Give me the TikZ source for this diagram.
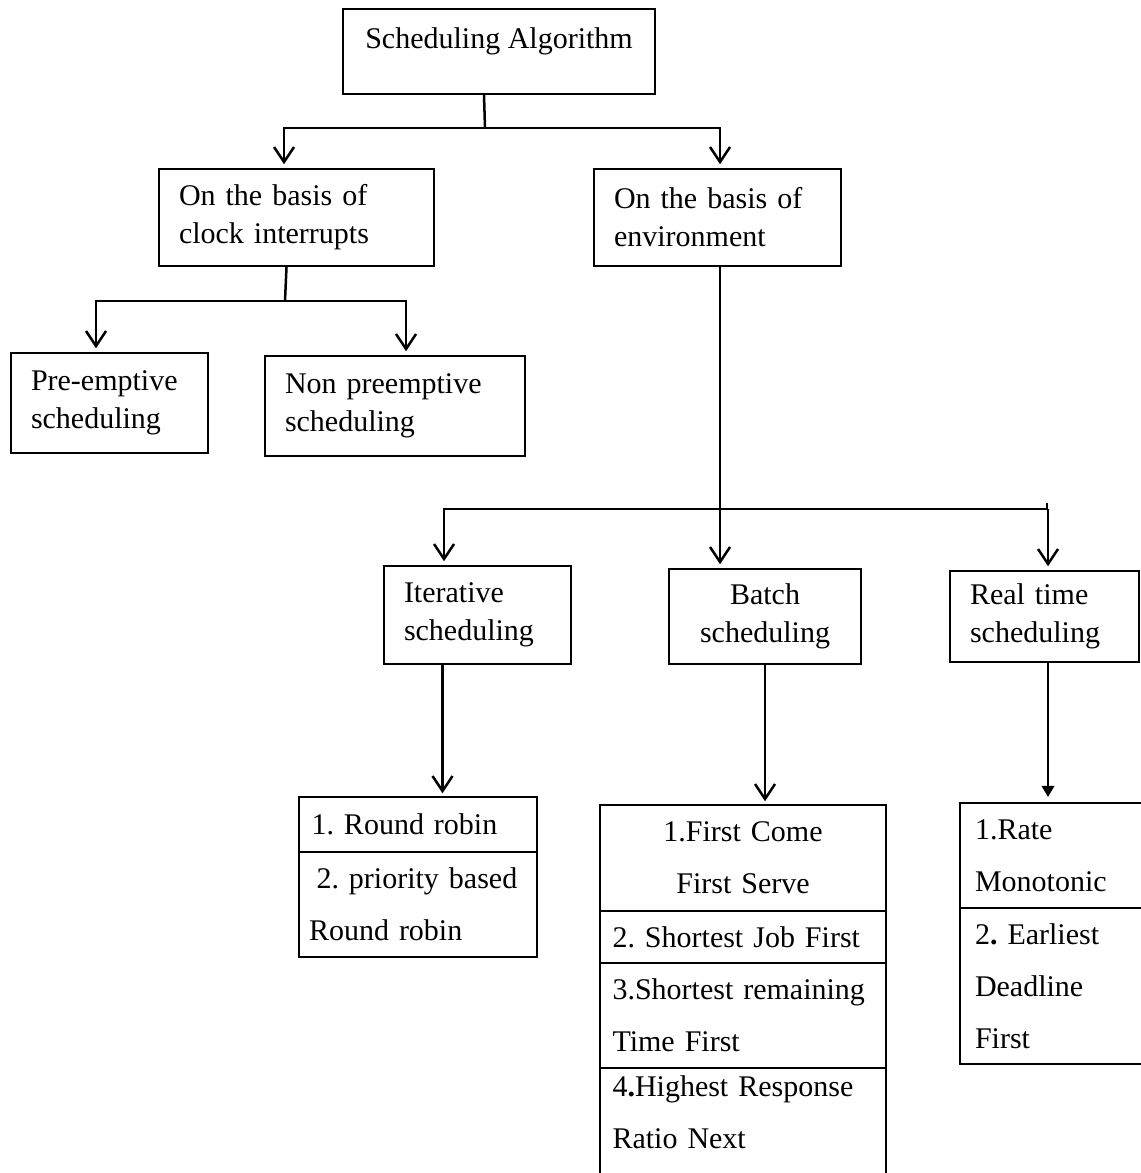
\documentclass[tikz,border=0pt]{standalone}
\usepackage{fontspec}
\setmainfont{Liberation Serif}
\usepackage{tikz}
\usetikzlibrary{arrows.meta, positioning}

\begin{document}
\begin{tikzpicture}[x=0.4pt, y=-0.4pt,
    box/.style={draw, line width=0.8pt, anchor=north west, align=left, inner xsep=8pt, inner ysep=0pt, font=\fontsize{12}{15.2}\selectfont\frenchspacing},
    cell/.style={draw, line width=0.8pt, outer sep=0pt, align=left, inner xsep=5pt, inner ysep=0pt, font=\fontsize{12}{20.8}\selectfont\frenchspacing},
    link/.style={line width=1pt},
    arr/.style={line width=1pt, -{Straight Barb[length=6pt, width=8pt]}, shorten >=1.5pt},
    arrfill/.style={line width=1pt, -{Triangle[length=4.5pt, width=5pt]}, shorten >=2.4pt},
    node distance=0pt]
    \useasboundingbox (0,0) rectangle (1140,1173);

    % 顶层
    \node[box, align=center, text height=15.6pt, text depth=18.4pt, minimum width=124.8pt] (root) at (342,8) {Scheduling Algorithm};

    % 第二层
    \node[box, text width=94pt, minimum height=38.8pt] (clock) at (158,168) {On the basis of\\clock interrupts};
    \node[box, text width=82.8pt, minimum height=38.8pt] (env) at (593,168) {On the basis of\\environment};

    % 时钟中断分支
    \node[box, text width=62.8pt, minimum height=40pt] (pre) at (10,352) {Pre-emptive\\scheduling};
    \node[box, text width=88pt, minimum height=40pt] (nonpre) at (264,355) {Non preemptive\\scheduling};

    % 环境分支
    \node[box, text width=58.8pt, minimum height=39.2pt] (iter) at (383,565) {Iterative\\scheduling};
    \node[box, align=center, text width=60.8pt, minimum height=38pt] (batch) at (668,568) {Batch\\scheduling};
    \node[box, text width=59.6pt, minimum height=36.4pt] (real) at (949,570) {Real time\\scheduling};

    % 算法列表
    \node[cell, anchor=north west, inner xsep=5pt, text width=85.2pt, minimum height=22pt] (rr1) at (299,797) {1. Round robin};
    \node[cell, below=of rr1, inner xsep=4pt, text width=87.2pt, minimum height=42pt] (rr2) {\hspace*{3pt}2. priority based\\Round robin};

    \node[cell, anchor=north west, align=center, text width=104.4pt, minimum height=42.4pt] (b1) at (600,805) {1.First Come\\First Serve};
    \node[cell, below=of b1, text width=104.4pt, minimum height=20.8pt] (b2) {2. Shortest Job First};
    \node[cell, below=of b2, text width=104.4pt, minimum height=42pt] (b3) {3.Shortest remaining\\Time First};
    \node[cell, below=of b3, text width=104.4pt, text height=8.5pt, text depth=38pt, inner ysep=3pt] (b4) {4\textbf{.}Highest Response\\Ratio Next};

    \node[cell, anchor=north west, inner xsep=6pt, text width=68pt, minimum height=42pt] (rt1) at (960,803) {1.Rate\\Monotonic};
    \node[cell, below=of rt1, inner xsep=6pt, text width=68pt, minimum height=62.4pt] (rt2) {2\textbf{.} Earliest\\Deadline\\First};

    % 连线
    \coordinate (rootj) at (485,128);
    \draw[link] ([xshift=-6pt]root.south) -- (rootj);
    \draw[arr] (rootj) -| ([xshift=-5pt]clock.north);
    \draw[arr] (rootj) -| ([xshift=1pt]env.north);

    \coordinate (clockj) at (285,301);
    \draw[link] ([xshift=-4pt]clock.south) -- (clockj);
    \draw[arr] (clockj) -| ([xshift=-5.4pt]pre.north);
    \draw[arr] (clockj) -| ([xshift=4.4pt]nonpre.north);

    \coordinate (envj) at (719,509);
    \draw[arr] ([xshift=1pt]env.south) -- ([xshift=1pt]env.south |- batch.north);
    \draw[arr] (envj) -| ([xshift=-13.4pt]iter.north);
    \draw[link] (envj) -| ++(328,-6);
    \draw[arr] ([xshift=1.4pt]real.north |- envj) -- ([xshift=1.4pt]real.north);

    \draw[arr] ([xshift=-14pt]iter.south) -- ([xshift=-14pt]iter.south |- rr1.north);
    \draw[arr] (batch.south) -- (batch.south |- b1.north);
    \draw[arrfill] ([xshift=1.4pt]real.south) -- ([xshift=1.4pt]real.south |- rt1.north);
\end{tikzpicture}
\end{document}
